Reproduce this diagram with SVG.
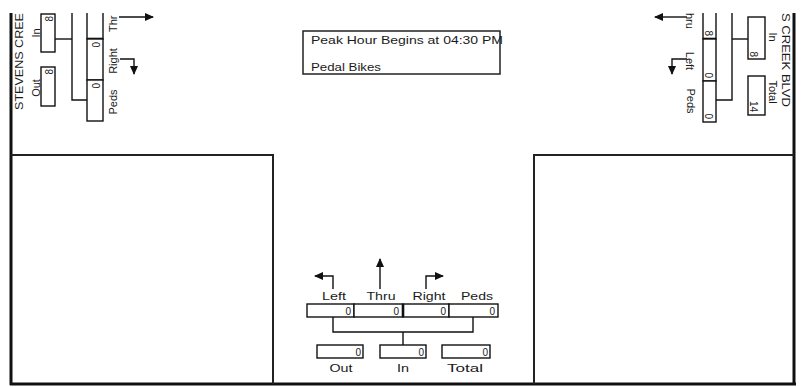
<svg xmlns="http://www.w3.org/2000/svg" width="801" height="387" viewBox="0 0 801 387">
<style>
  text { font-family: "Liberation Sans", Arial, sans-serif; fill: #1a1a1a; }
  .lbl { font-size: 11px; }
  .val { font-size: 10px; }
  .box { fill: #fff; stroke: #111; stroke-width: 1.4; }
  .ln { fill: none; stroke: #111; stroke-width: 1.4; }
  .frame { fill: none; stroke: #111; stroke-width: 3; }
  .thin { fill: none; stroke: #222; stroke-width: 2; }
  .arr { fill: none; stroke: #111; stroke-width: 1.4; marker-end: url(#ah); }
</style>
<defs>
  <marker id="ah" markerWidth="9" markerHeight="8" refX="8" refY="4" orient="auto" markerUnits="userSpaceOnUse">
    <path d="M0,0 L9,4 L0,8 z" fill="#111"/>
  </marker>
</defs>
<rect width="801" height="387" fill="#fff"/>

<g id="frame">
  <line class="frame" x1="11" y1="13" x2="11" y2="385"/>
  <line class="frame" x1="794" y1="13" x2="794" y2="385"/>
  <line class="frame" x1="10" y1="384" x2="796" y2="384"/>
  <polyline class="thin" points="11,155 273,155 273,384"/>
  <polyline class="thin" points="794,155 534,155 534,384"/>
</g>

<g id="title">
  <rect x="303" y="31" width="197" height="43" fill="#fff" stroke="#222" stroke-width="1.5"/>
  <text class="lbl" x="311" y="44" textLength="192" lengthAdjust="spacingAndGlyphs">Peak Hour Begins at 04:30 PM</text>
  <text class="lbl" x="311" y="71" textLength="70" lengthAdjust="spacingAndGlyphs">Pedal Bikes</text>
</g>

<g id="connectors">
  <!-- west approach -->
  <polyline class="ln" points="55,39 72,39"/>
  <polyline class="ln" points="72,13 72,100 87,100"/>
  <!-- east approach -->
  <polyline class="ln" points="732,13 732,100 716,100"/>
  <polyline class="ln" points="732,39 748,39"/>
  <!-- south approach -->
  <polyline class="ln" points="333,317 333,332 473,332 473,317"/>
  <line class="ln" x1="403" y1="332" x2="403" y2="345"/>
  <!-- movement arrows -->
  <line class="arr" x1="119" y1="17" x2="153" y2="17"/>
  <polyline class="arr" points="120,59 134,59 134,74"/>
  <line class="arr" x1="687" y1="17" x2="655" y2="17"/>
  <polyline class="arr" points="687,59 672,59 672,74"/>
  <polyline class="arr" points="333,289 333,276 315,276"/>
  <line class="arr" x1="380" y1="289" x2="380" y2="259"/>
  <polyline class="arr" points="426,289 426,276 443,276"/>
</g>

<g id="west">
  <text class="lbl" transform="translate(23,110) rotate(-90)" textLength="97" lengthAdjust="spacingAndGlyphs">STEVENS CREE</text>
  <rect class="box" x="41" y="14" width="14" height="38"/>
  <text class="val" transform="translate(53,16) rotate(-90)" text-anchor="end">8</text>
  <text class="lbl" transform="translate(40,33) rotate(-90)" text-anchor="middle">In</text>
  <rect class="box" x="41" y="67" width="14" height="39"/>
  <text class="val" transform="translate(53,69) rotate(-90)" text-anchor="end">8</text>
  <text class="lbl" transform="translate(40,88) rotate(-90)" text-anchor="middle">Out</text>
  <polyline class="ln" points="87,13 87,39 103,39 103,13"/>
  <line x1="87" y1="39" x2="103" y2="39" stroke="#111" stroke-width="2.6"/>
  <rect class="box" x="87" y="39" width="16" height="41"/>
  <text class="val" transform="translate(100,42) rotate(-90)" text-anchor="end">0</text>
  <rect class="box" x="87" y="80" width="16" height="41"/>
  <text class="val" transform="translate(100,83) rotate(-90)" text-anchor="end">0</text>
  <text class="lbl" transform="translate(117,32) rotate(-90)">Thr</text>
  <text class="lbl" transform="translate(117,61) rotate(-90)" text-anchor="middle">Right</text>
  <text class="lbl" transform="translate(117,102) rotate(-90)" text-anchor="middle">Peds</text>
</g>

<g id="east">
  <text class="lbl" transform="translate(782,107) rotate(90)" text-anchor="end" textLength="94" lengthAdjust="spacingAndGlyphs">S CREEK BLVD</text>
  <polyline class="ln" points="703,13 703,39 716,39 716,13"/>
  <line x1="703" y1="39" x2="716" y2="39" stroke="#111" stroke-width="2.6"/>
  <text class="val" transform="translate(705,36) rotate(90)" text-anchor="end">8</text>
  <rect class="box" x="703" y="39" width="13" height="42"/>
  <text class="val" transform="translate(705,78) rotate(90)" text-anchor="end">0</text>
  <rect class="box" x="703" y="81" width="13" height="41"/>
  <text class="val" transform="translate(705,119) rotate(90)" text-anchor="end">0</text>
  <text class="lbl" transform="translate(686,13) rotate(90)">hru</text>
  <text class="lbl" transform="translate(686,61) rotate(90)" text-anchor="middle">Left</text>
  <text class="lbl" transform="translate(687,101) rotate(90)" text-anchor="middle">Peds</text>
  <rect class="box" x="748" y="17" width="17" height="42"/>
  <text class="val" transform="translate(750,57) rotate(90)" text-anchor="end">8</text>
  <text class="lbl" transform="translate(769,37) rotate(90)" text-anchor="middle">In</text>
  <rect class="box" x="748" y="76" width="17" height="39"/>
  <text class="val" transform="translate(750,112) rotate(90)" text-anchor="end">14</text>
  <text class="lbl" transform="translate(769,92) rotate(90)" text-anchor="middle">Total</text>
</g>

<g id="south">
  <text class="lbl" x="334" y="300" text-anchor="middle" textLength="24" lengthAdjust="spacingAndGlyphs">Left</text>
  <text class="lbl" x="381" y="300" text-anchor="middle" textLength="29" lengthAdjust="spacingAndGlyphs">Thru</text>
  <text class="lbl" x="429" y="300" text-anchor="middle" textLength="33" lengthAdjust="spacingAndGlyphs">Right</text>
  <text class="lbl" x="477" y="300" text-anchor="middle" textLength="32" lengthAdjust="spacingAndGlyphs">Peds</text>
  <rect class="box" x="307" y="304" width="47" height="13"/>
  <rect class="box" x="354" y="304" width="49" height="13"/>
  <rect class="box" x="403" y="304" width="46" height="13"/>
  <rect class="box" x="449" y="304" width="49" height="13"/>
  <line x1="403" y1="304" x2="403" y2="317" stroke="#111" stroke-width="2.6"/>
  <text class="val" x="351" y="315" text-anchor="end">0</text>
  <text class="val" x="399" y="315" text-anchor="end">0</text>
  <text class="val" x="446" y="315" text-anchor="end">0</text>
  <text class="val" x="495" y="315" text-anchor="end">0</text>
  <rect class="box" x="317" y="345" width="46" height="13"/>
  <rect class="box" x="380" y="345" width="46" height="13"/>
  <rect class="box" x="442" y="345" width="48" height="13"/>
  <text class="val" x="361" y="356" text-anchor="end">0</text>
  <text class="val" x="424" y="356" text-anchor="end">0</text>
  <text class="val" x="488" y="356" text-anchor="end">0</text>
  <text class="lbl" x="341" y="372" text-anchor="middle" textLength="23" lengthAdjust="spacingAndGlyphs">Out</text>
  <text class="lbl" x="403" y="372" text-anchor="middle" textLength="12" lengthAdjust="spacingAndGlyphs">In</text>
  <text class="lbl" x="465" y="372" text-anchor="middle" textLength="36" lengthAdjust="spacingAndGlyphs">Total</text>
</g>
</svg>
